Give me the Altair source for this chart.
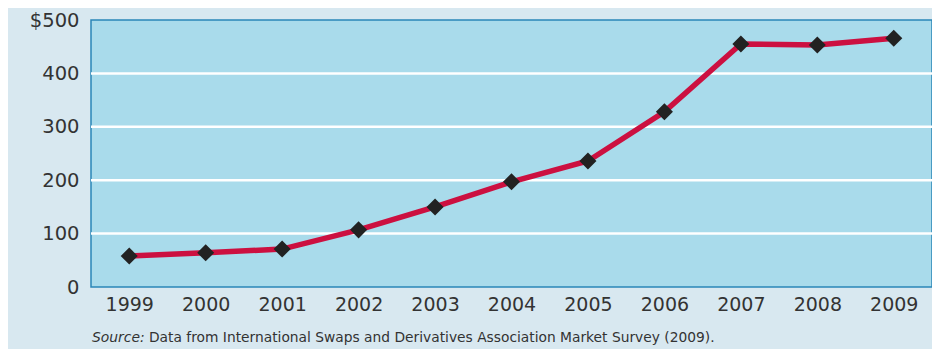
import altair as alt
import pandas as pd

years = ["1999", "2000", "2001", "2002", "2003", "2004", "2005", "2006", "2007", "2008", "2009"]
values = [58, 64, 71, 107, 150, 197, 236, 328, 455, 453, 466]
grid_values = [100, 200, 300, 400]
y_ticks = [0, 100, 200, 300, 400, 500]
source_label = "Source:"
source_text = "Data from International Swaps and Derivatives Association Market Survey (2009)."

W, H = 841, 267
FONT = "DejaVu Sans"

df = pd.DataFrame({"year": years, "value": values})
grid_df = pd.DataFrame({"value": grid_values})

x_enc = alt.X(
    "year:O",
    scale=alt.Scale(type="point", padding=0.5),
    axis=alt.Axis(
        title=None, labelAngle=0, ticks=False, domain=False, grid=False,
        labelFontSize=19, labelColor="#333333", labelFont=FONT, labelPadding=8,
    ),
)
y_scale = alt.Scale(domain=[0, 500], nice=False)
y_axis = alt.Axis(
    title=None, values=y_ticks, ticks=False, domain=False, grid=False,
    labelFontSize=19.5, labelColor="#333333", labelFont=FONT, labelPadding=12,
    labelExpr="datum.value == 500 ? '$500' : datum.label",
)
y_enc = alt.Y("value:Q", scale=y_scale, axis=y_axis)

grid = alt.Chart(grid_df).mark_rule(color="white", strokeWidth=2.5).encode(y=y_enc)

line = alt.Chart(df).mark_line(color="#cc1040", strokeWidth=5.5).encode(x=x_enc, y=y_enc)
points = alt.Chart(df).mark_point(
    shape="diamond", filled=True, color="#222222", size=290, opacity=1
).encode(x=x_enc, y=y_enc)

src1 = alt.Chart(pd.DataFrame({"t": [source_label]})).mark_text(
    align="left", baseline="alphabetic", fontSize=13.9, font=FONT, fontStyle="italic", color="#333333"
).encode(text="t:N", x=alt.value(1), y=alt.value(H + 55))
src2 = alt.Chart(pd.DataFrame({"t": [source_text]})).mark_text(
    align="left", baseline="alphabetic", fontSize=13.8, font=FONT, color="#333333"
).encode(text="t:N", x=alt.value(58), y=alt.value(H + 55))

chart = (
    alt.layer(grid, line, points, src1, src2)
    .properties(
        width=W, height=H,
        padding={"left": 83, "top": 12, "right": 0, "bottom": 62},
        autosize="none",
        background="#d8e8f0",
    )
    .configure_view(fill="#a9dbeb", stroke="#2a86b8", strokeWidth=1.5)
)

chart.save("out.html", embed_options={"renderer": "svg", "actions": False})
